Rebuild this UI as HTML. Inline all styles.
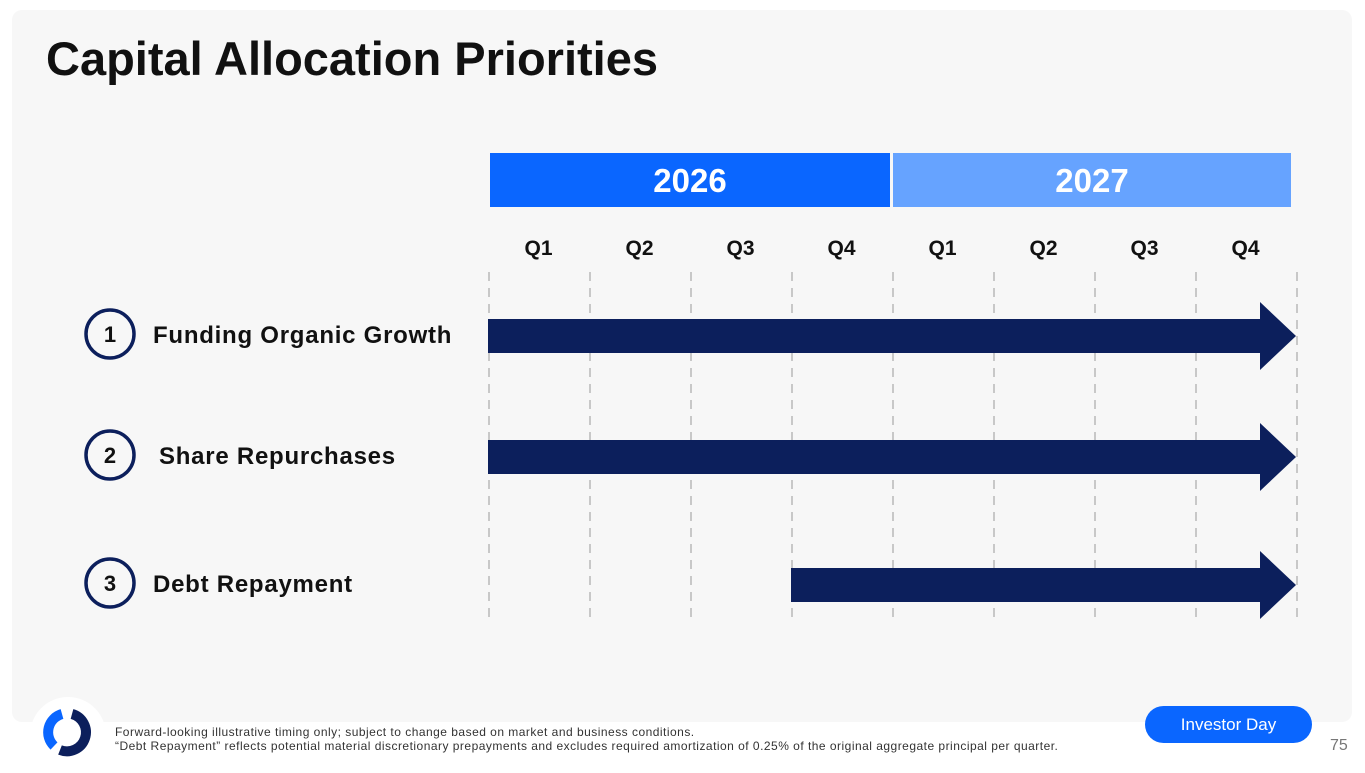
<!DOCTYPE html>
<html><head><meta charset="utf-8"><style>
body{margin:0;width:1365px;height:768px;background:#fff;font-family:"Liberation Sans",sans-serif;position:relative;overflow:hidden}
.panel{position:absolute;left:12px;top:10px;width:1340px;height:712px;background:#f7f7f7;border-radius:10px}
h1{position:absolute;left:46px;top:31px;margin:0;font-size:47px;font-weight:bold;color:#111;letter-spacing:0px}
.foot{position:absolute;left:115px;top:725px;font-size:12px;color:#333;line-height:14px;letter-spacing:0.48px}
.pill{position:absolute;left:1145px;top:706px;width:167px;height:37px;border-radius:19px;background:#0a66ff;color:#fff;font-size:17px;text-align:center;line-height:37px}
.pg{position:absolute;left:1330px;top:737px;font-size:16px;color:#777}
.logo-bg{position:absolute;left:30px;top:697px;width:76px;height:76px;border-radius:50%;background:#fff}
</style></head><body>
<div class="panel"></div>
<h1>Capital Allocation Priorities</h1>
<div class="logo-bg"></div>
<svg style="position:absolute;left:0;top:0" width="1365" height="768" id="chart"></svg>
<div class="foot">Forward-looking illustrative timing only; subject to change based on market and business conditions.<br>“Debt Repayment” reflects potential material discretionary prepayments and excludes required amortization of 0.25% of the original aggregate principal per quarter.</div>
<div class="pill">Investor Day</div>
<div class="pg">75</div>
<script>
const years=["2026","2027"];
const quarters=["Q1","Q2","Q3","Q4","Q1","Q2","Q3","Q4"];
const rowLabels=["Funding Organic Growth","Share Repurchases","Debt Repayment"];
const rowStart=[0,0,3];
const rowEnd=[8,8,8];
const NS="http://www.w3.org/2000/svg";
const svg=document.getElementById('chart');
const x0=488,qw=101;
const xq=i=>x0+i*qw;
const rowY=[336,457,585];
function mk(t,a){const e=document.createElementNS(NS,t);for(const k in a)e.setAttribute(k,a[k]);svg.appendChild(e);return e;}
let l1=mk('path',{d:'M72 714 A19 19 0 1 1 60 750',fill:'none',stroke:'#0c1f5c','stroke-width':10});


let l2=mk('path',{d:'M54 746 A19 19 0 0 1 62 714',fill:'none',stroke:'#0a66ff','stroke-width':10});


years.forEach((y,i)=>{
 const xs=xq(i*4)+(i==0?2:1), w=qw*4-(i==0?4:6);
 const r=mk('rect',{x:xs,y:153,width:w,height:54,fill:i==0?'#0a66ff':'#66a3ff'});
 
 
 const t=mk('text',{x:xs+w/2,y:192,'text-anchor':'middle',fill:'#fff','font-size':33,'font-weight':'bold','font-family':'Liberation Sans, sans-serif'});
 t.textContent=y;
 
 
});
quarters.forEach((q,i)=>{
 const t=mk('text',{x:xq(i)+qw/2,y:255,'text-anchor':'middle',fill:'#111','font-size':21,'font-weight':'bold','font-family':'Liberation Sans, sans-serif'});
 t.textContent=q;
 
 
});
for(let i=0;i<=quarters.length;i++){
 const g=mk('line',{x1:xq(i)+1,x2:xq(i)+1,y1:272,y2:620,stroke:'#aaa','stroke-width':1.2,'stroke-dasharray':'9 7'});
 
 
}
rowLabels.forEach((lab,i)=>{
 const y=rowY[i];
 const c=mk('circle',{cx:110,cy:y-2,r:24,fill:'none',stroke:'#0c1f5c','stroke-width':3.5});
 
 
 const n=mk('text',{x:110,y:y+6,'text-anchor':'middle',fill:'#111','font-size':22,'font-weight':'bold','font-family':'Liberation Sans, sans-serif'});
 n.textContent=String(i+1);
 
 
 const t=mk('text',{x:i==1?159:153,y:y+7,fill:'#111','font-size':24,'font-weight':'bold','letter-spacing':'0.75','font-family':'Liberation Sans, sans-serif'});
 t.textContent=lab;
 
 
 const xs=xq(rowStart[i]), xe=xq(rowEnd[i]), hx=xe-36;
 const p=mk('polygon',{points:`${xs},${y-17} ${hx},${y-17} ${hx},${y-34} ${xe},${y} ${hx},${y+34} ${hx},${y+17} ${xs},${y+17}`,fill:'#0c1f5c'});
 
 
});
</script>
</body></html>
